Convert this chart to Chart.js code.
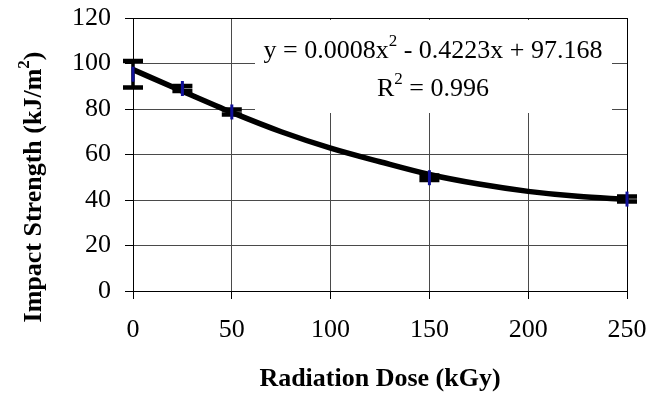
<!DOCTYPE html>
<html><head><meta charset="utf-8">
<script src="https://cdn.jsdelivr.net/npm/chart.js@4.4.1/dist/chart.umd.min.js"></script>
<style>html,body{margin:0;padding:0;background:#fff}#wrap{width:663px;height:394px;position:relative}</style>
</head><body><div id="wrap"><canvas id="c"></canvas></div>
<script>
// ---- data ----
const doses = [0, 25, 50, 150, 250];
const strength = [95.3, 89.0, 78.7, 49.8, 40.4];
const errors = [5.8, 1.1, 1.1, 1.0, 1.1];
const trendX = [0, 25, 50, 75, 100, 125, 150, 175, 200, 225, 250];
const trendY = [97.3, 87.8, 78.5, 70.0, 62.8, 56.8, 51.2, 47.0, 43.8, 41.6, 40.3];
const xTicks = [0, 50, 100, 150, 200, 250];
const yTicks = [0, 20, 40, 60, 80, 100, 120];
const eqLine1 = [['y = 0.0008x', false], ['2', true], [' - 0.4223x + 97.168', false]];
const eqLine2 = [['R', false], ['2', true], [' = 0.996', false]];
const xTitle = [['Radiation Dose (kGy)', false]];
const yTitle = [['Impact Strength (kJ/m', false], ['2', true], [')', false]];

const FAM = "'Liberation Serif','Times New Roman',serif";
const FS = 26, SUP = 17, RAISE = 12;

function drawRich(ctx, parts, cx, baseY, bold) {
  const w = bold ? 'bold ' : '';
  let total = 0;
  const widths = parts.map(([t, sup]) => {
    ctx.font = w + (sup ? SUP : FS) + 'px ' + FAM;
    const m = ctx.measureText(t).width;
    total += m; return m;
  });
  let x = cx - total / 2;
  ctx.textAlign = 'left';
  ctx.textBaseline = 'alphabetic';
  ctx.fillStyle = '#000';
  parts.forEach(([t, sup], i) => {
    ctx.font = w + (sup ? SUP : FS) + 'px ' + FAM;
    ctx.fillText(t, x, sup ? baseY - RAISE : baseY);
    x += widths[i];
  });
}

const overlayPlugin = {
  id: 'overlay',
  beforeDatasetsDraw(chart) {
    const ctx = chart.ctx, a = chart.chartArea;
    ctx.save();
    // equation label box (white background hides gridlines)
    ctx.fillStyle = '#fff';
    ctx.fillRect(a.left + 122, a.top + 2, 357, 93);
    const cx = a.left + 300;
    drawRich(ctx, eqLine1, cx, a.top + 39.7, false);
    drawRich(ctx, eqLine2, cx, a.top + 78, false);
    ctx.restore();
  },
  afterDatasetDraw(chart, args) {
    if (args.index !== 0) return;
    const ctx = chart.ctx, xs = chart.scales.x, ys = chart.scales.y;
    ctx.save();
    ctx.strokeStyle = '#000';
    ctx.lineCap = 'butt';
    doses.forEach((d, i) => {
      const px = xs.getPixelForValue(d);
      const top = ys.getPixelForValue(strength[i] + errors[i]);
      const bot = ys.getPixelForValue(strength[i] - errors[i]);
      ctx.lineWidth = 3.5;
      ctx.beginPath();
      ctx.moveTo(px, top); ctx.lineTo(px, bot);
      ctx.stroke();
      ctx.lineWidth = 4.5;
      ctx.beginPath();
      ctx.moveTo(px - 10, top); ctx.lineTo(px + 10, top);
      ctx.moveTo(px - 10, bot); ctx.lineTo(px + 10, bot);
      ctx.stroke();
    });
    ctx.restore();
  },
  afterDraw(chart) {
    const ctx = chart.ctx, a = chart.chartArea;
    ctx.save();
    drawRich(ctx, xTitle, (a.left + a.right) / 2, 386, true);
    ctx.translate(41, 187);
    ctx.rotate(-Math.PI / 2);
    drawRich(ctx, yTitle, 0, 0, true);
    ctx.restore();
  }
};

new Chart(document.getElementById('c'), {
  type: 'scatter',
  data: {
    datasets: [
      {
        type: 'line',
        data: trendX.map((x, i) => ({ x, y: trendY[i] })),
        borderColor: '#000', borderWidth: 5.5,
        pointRadius: 0, tension: 0.4, cubicInterpolationMode: 'monotone',
        fill: false, clip: false, order: 2
      },
      {
        data: doses.map((x, i) => ({ x, y: strength[i] })),
        pointStyle: 'line', rotation: 90, pointRadius: 7.5,
        borderColor: '#10109a', backgroundColor: '#10109a', pointBorderWidth: 3,
        clip: false, order: 1
      }
    ]
  },
  options: {
    responsive: true, maintainAspectRatio: false, animation: false,
    devicePixelRatio: 1,
    layout: { padding: { top: 18, right: 36, left: 0, bottom: 0 } },
    plugins: { legend: { display: false }, tooltip: { enabled: false } },
    scales: {
      x: {
        type: 'linear', min: 0, max: 250,
        afterBuildTicks: s => { s.ticks = xTicks.map(v => ({ value: v })); },
        afterFit: s => { s.height = 103; s.paddingLeft = 0; s.paddingRight = 0; },
        grid: {
          color: c => (c.tick && c.tick.value === 250) ? '#000' : '#4a4a4a',
          tickColor: '#000', tickLength: 8, lineWidth: 1
        },
        border: { color: '#000', width: 1 },
        ticks: { color: '#000', font: { family: FAM, size: FS }, padding: 16, maxRotation: 0 }
      },
      y: {
        type: 'linear', min: 0, max: 120,
        afterBuildTicks: s => { s.ticks = yTicks.map(v => ({ value: v })); },
        afterFit: s => { s.width = 133; s.paddingTop = 0; s.paddingBottom = 0; },
        grid: {
          color: c => (c.tick && c.tick.value === 120) ? '#000' : '#4a4a4a',
          tickColor: '#000', tickLength: 8, lineWidth: 1
        },
        border: { color: '#000', width: 1 },
        ticks: { color: '#000', font: { family: FAM, size: FS }, padding: 14 }
      }
    }
  },
  plugins: [overlayPlugin]
});
</script>
</body></html>
